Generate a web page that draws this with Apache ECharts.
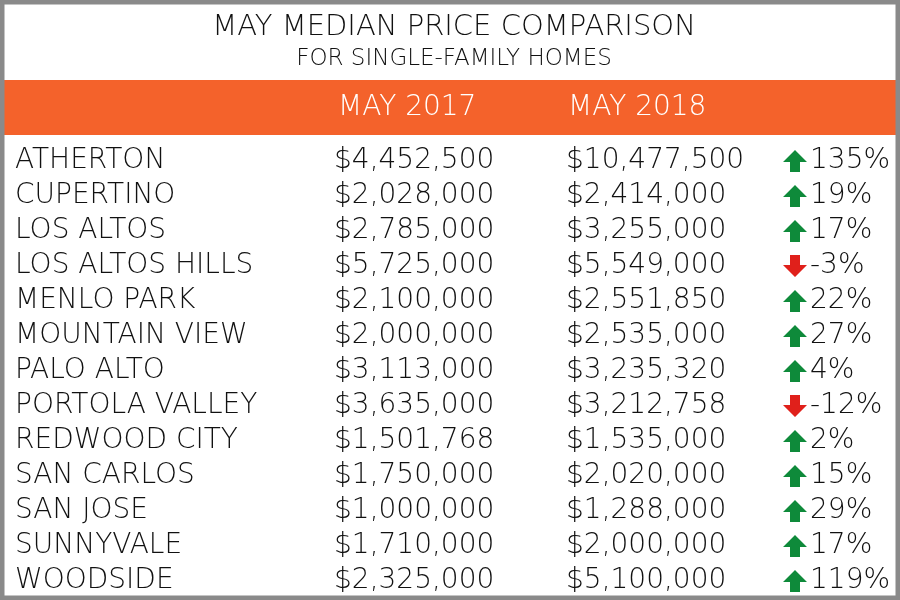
<!DOCTYPE html>
<html><head><meta charset="utf-8">
<script src="https://cdn.jsdelivr.net/npm/echarts@6/dist/echarts.min.js"></script>
<style>html,body{margin:0;padding:0;background:#fff}#c{width:900px;height:600px}</style>
</head><body><div id="c"></div>
<script>
const cities = ["ATHERTON","CUPERTINO","LOS ALTOS","LOS ALTOS HILLS","MENLO PARK","MOUNTAIN VIEW","PALO ALTO","PORTOLA VALLEY","REDWOOD CITY","SAN CARLOS","SAN JOSE","SUNNYVALE","WOODSIDE"];
const price2017 = ["$4,452,500","$2,028,000","$2,785,000","$5,725,000","$2,100,000","$2,000,000","$3,113,000","$3,635,000","$1,501,768","$1,750,000","$1,000,000","$1,710,000","$2,325,000"];
const price2018 = ["$10,477,500","$2,414,000","$3,255,000","$5,549,000","$2,551,850","$2,535,000","$3,235,320","$3,212,758","$1,535,000","$2,020,000","$1,288,000","$2,000,000","$5,100,000"];
const changePct = [135,19,17,-3,22,27,4,-12,2,15,29,17,119];
const headers = ["MAY 2017","MAY 2018"];
const title = "MAY MEDIAN PRICE COMPARISON";
const subtitle = "FOR SINGLE-FAMILY HOMES";

const FONT = "'DejaVu Sans'";
const chart = echarts.init(document.getElementById('c'));
const txt = (x,y,s,size,color) => ({type:'text',style:{x:x,y:y,text:s,fill:color||'#111',font:'300 '+size+'px '+FONT,textVerticalAlign:'middle'}});
chart.setOption({
  animation:false,
  grid:{left:0,right:0,top:143.5,bottom:1.5},
  xAxis:{type:'value',min:0,max:900,show:false},
  yAxis:{type:'category',data:cities,inverse:true,show:false},
  graphic:[
    {type:'rect',shape:{x:0,y:80,width:900,height:55},style:{fill:'#F4622B'},z:-1},
    {type:'text',style:{x:454,y:27,text:title,fill:'#111',font:'300 29px '+FONT,textAlign:'center',textVerticalAlign:'middle'}},
    {type:'text',style:{x:454,y:59,text:subtitle,fill:'#111',font:'300 23px '+FONT,textAlign:'center',textVerticalAlign:'middle'}},
    {type:'text',style:{x:338,y:108,text:headers[0],fill:'#fff',font:'300 28px '+FONT,textVerticalAlign:'middle'}},
    {type:'text',style:{x:568,y:108,text:headers[1],fill:'#fff',font:'300 28px '+FONT,textVerticalAlign:'middle'}},
    {type:'rect',shape:{x:2,y:2,width:896,height:596},style:{fill:'none',stroke:'#8a8a8a',lineWidth:5},z:10}
  ],
  series:[{
    type:'custom',
    data:cities.map((c,i)=>[0,i]),
    renderItem:function(params,api){
      const i = api.value(1);
      const y = api.coord([0,i])[1];
      const up = changePct[i]>=0;
      const ax=795, col = up?'#0E8A3A':'#E0201B';
      const arrow = up
        ? [[ax-12,y+1],[ax,y-11],[ax+12,y+1],[ax+5,y+1],[ax+5,y+11],[ax-5,y+11],[ax-5,y+1]]
        : [[ax-12,y-1],[ax,y+11],[ax+12,y-1],[ax+5,y-1],[ax+5,y-11],[ax-5,y-11],[ax-5,y-1]];
      return {type:'group',children:[
        txt(15,y,cities[i],28),
        txt(334,y,price2017[i],28),
        txt(566,y,price2018[i],28),
        {type:'polygon',shape:{points:arrow},style:{fill:col}},
        txt(810,y,changePct[i]+'%',28)
      ]};
    }
  }]
});
</script></body></html>
